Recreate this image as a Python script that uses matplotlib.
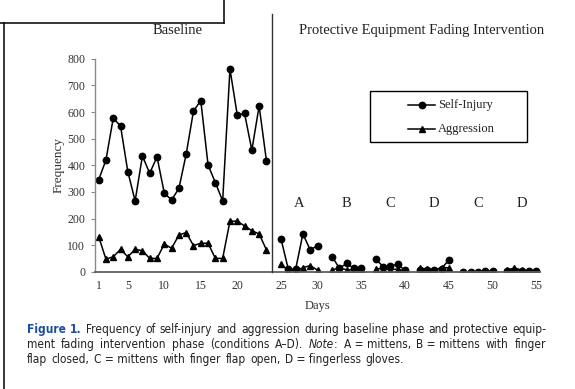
import matplotlib
matplotlib.use("Agg")
import matplotlib.pyplot as plt
from matplotlib.lines import Line2D
from matplotlib.patches import Rectangle
from matplotlib.transforms import blended_transform_factory
from matplotlib import font_manager

# baseline phase, days 1-24
days_baseline = list(range(1, 25))
si_baseline = [345, 420, 577, 548, 376, 266, 435, 370, 432, 295, 270, 313,
               442, 604, 643, 401, 335, 266, 762, 589, 595, 457, 623, 417]
ag_baseline = [132, 47, 56, 84, 56, 84, 79, 50, 50, 104, 88, 138,
               147, 98, 107, 107, 50, 50, 190, 190, 172, 154, 142, 82]

# fading intervention, conditions A-D
cond_labels = ["A", "B", "C", "D", "C", "D"]
cond_days = [list(range(25, 31)), list(range(31, 36)), list(range(36, 41)),
             list(range(41, 46)), list(range(46, 51)), list(range(51, 56))]
si_cond = [[123, 9, 9, 142, 82, 98], [57, 13, 31, 13, 13], [47, 19, 22, 28, 5],
           [8, 8, 8, 12, 44], [0, 0, 0, 2, 3], [3, 2, 3, 2, 2]]
ag_cond = [[28, 5, 3, 15, 23, 6], [8, 12, 8, 5, 5], [11, 11, 7, 10, 2],
           [13, 10, 7, 15, 15], [0, 0, 0, 0, 0], [5, 15, 5, 2, 2]]

xtick_days = [1, 5, 10, 15, 20, 25, 30, 35, 40, 45, 50, 55]
yticks = list(range(0, 801, 100))


def pick_font(names):
    for n in names:
        try:
            font_manager.findfont(n, fallback_to_default=False)
            return n
        except Exception:
            pass
    return "DejaVu Sans"


serif = pick_font(["Liberation Serif", "DejaVu Serif"])

# caption font: a condensed sans if one is around
cap_font = dict(family="DejaVu Sans", stretch="condensed")
f = font_manager.findfont(font_manager.FontProperties(**cap_font))
if "ondensed" not in f:
    cap_font = dict(family=pick_font(["Liberation Sans Narrow", "Roboto", "DejaVu Sans"]))

W, H = 575, 389
fig = plt.figure(figsize=(W / 100, H / 100), dpi=100)


def fx(px):
    return px / W


def fy(py):
    return 1 - py / H


ax = fig.add_axes([fx(95), fy(271.7), fx(540) - fx(95), fy(58.9) - fy(271.7)])

# one empty category slot between phases/conditions (Excel-style gaps)
segments = [(days_baseline, si_baseline, ag_baseline)]
segments += list(zip(cond_days, si_cond, ag_cond))


def slot(day):
    k = 0
    for i, (d, _, _) in enumerate(segments):
        if day in d:
            k = i
    return day - 1 + k


mk = dict(color="black", lw=1.1, markersize=4.6)
for d, si, ag in segments:
    xs = [slot(v) for v in d]
    ax.plot(xs, si, marker="o", **mk)
    ax.plot(xs, ag, marker="^", **mk)

ax.set_xlim(-0.5, 60.5)
ax.set_ylim(0, 800)
ax.set_yticks(yticks)
ax.set_xticks([slot(v) for v in xtick_days])
ax.set_xticklabels([str(v) for v in xtick_days])
for s in ["top", "right"]:
    ax.spines[s].set_visible(False)
ax.spines["left"].set_color("#8a8a8a")
ax.spines["bottom"].set_color("#606060")
ax.spines["left"].set_linewidth(1.0)
ax.spines["bottom"].set_linewidth(1.3)
ax.tick_params(axis="y", direction="out", length=3, width=0.8, color="#8a8a8a",
               pad=4, labelsize=8.5, labelcolor="#333333")
ax.tick_params(axis="x", length=0, pad=6, labelsize=8.5, labelcolor="#333333")
for lab in ax.get_xticklabels() + ax.get_yticklabels():
    lab.set_fontfamily(serif)
ax.set_ylabel("Frequency", fontfamily=serif, fontsize=9.5, color="#333333", labelpad=2)
ax.set_xlabel("Days", fontfamily=serif, fontsize=9, color="#333333", labelpad=6)

# condition letters
for lab, (d, _, _) in zip(cond_labels, segments[1:]):
    cx = (slot(d[0]) + slot(d[-1])) / 2
    ax.text(cx, 258, lab, ha="center", va="center", fontfamily=serif, fontsize=10.5,
            color="#222222")

# phase change line
trans = blended_transform_factory(ax.transData, fig.transFigure)
fig.add_artist(Line2D([23.8, 23.8], [fy(271.7), fy(14)], transform=trans,
                      color="#333333", lw=1.0))

fig.text(fx(178), fy(34), "Baseline", ha="center", va="baseline", fontfamily=serif,
         fontsize=10.5, color="#222222")
fig.text(fx(422), fy(34), "Protective Equipment Fading Intervention", ha="center",
         va="baseline", fontfamily=serif, fontsize=10.5, color="#222222")

# legend box
fig.add_artist(Rectangle((fx(370), fy(141.7)), fx(527) - fx(370), fy(90.7) - fy(141.7),
                         transform=fig.transFigure, fill=False, ec="black", lw=1.0))
for py, m, name in [(105, "o", "Self-Injury"), (129, "^", "Aggression")]:
    fig.add_artist(Line2D([fx(408), fx(435)], [fy(py), fy(py)], transform=fig.transFigure,
                          color="black", lw=1.1))
    fig.add_artist(Line2D([fx(421.5)], [fy(py)], transform=fig.transFigure, marker=m,
                          color="black", markersize=4.6))
    fig.text(fx(438), fy(py), name, ha="left", va="center", fontfamily=serif,
             fontsize=9, color="#222222")

# page frame lines
for xs, ys in [([0, 224], [22.7, 22.7]), ([224, 224], [0, 22.7]), ([4, 4], [22.7, 389])]:
    fig.add_artist(Line2D([fx(v) for v in xs], [fy(v) for v in ys],
                          transform=fig.transFigure, color="black", lw=1.1))

# caption, justified
blue = dict(color="#1c4f9f", fontweight="bold")
cap_lines = [
    [[("Figure", blue)], [("1.", blue)], "Frequency", "of", "self-injury", "and",
     "aggression", "during", "baseline", "phase", "and", "protective", "equip-"],
    ["ment", "fading", "intervention", "phase", "(conditions", "A–D).",
     [("Note", dict(style="italic")), (":", {})], "A = mittens,", "B = mittens",
     "with", "finger"],
    ["flap", "closed,", "C = mittens", "with", "finger", "flap", "open,",
     "D = fingerless", "gloves."],
]
cap_y = [332.7, 347.7, 362.7]
cap_size = 8.6
x0, x1 = 27, 546
renderer = fig.canvas.get_renderer()
for li, (words, py) in enumerate(zip(cap_lines, cap_y)):
    items = []
    for w in words:
        segs = [(w, {})] if isinstance(w, str) else w
        objs = []
        width = 0
        for txt, kw in segs:
            t = fig.text(0, fy(py), txt, ha="left", va="baseline", fontsize=cap_size,
                         color=kw.get("color", "#222222"),
                         fontweight=kw.get("fontweight", "normal"),
                         style=kw.get("style", "normal"), **cap_font)
            tw = t.get_window_extent(renderer).width
            objs.append((t, tw))
            width += tw
        items.append((objs, width))
    total = sum(w for _, w in items)
    if li < len(cap_lines) - 1:
        gap = (x1 - x0 - total) / (len(items) - 1)
    else:
        gap = 4.5
    cx = x0
    for objs, width in items:
        for t, tw in objs:
            t.set_x(fx(cx))
            cx += tw
        cx += gap

fig.savefig("out.png", dpi=100)
